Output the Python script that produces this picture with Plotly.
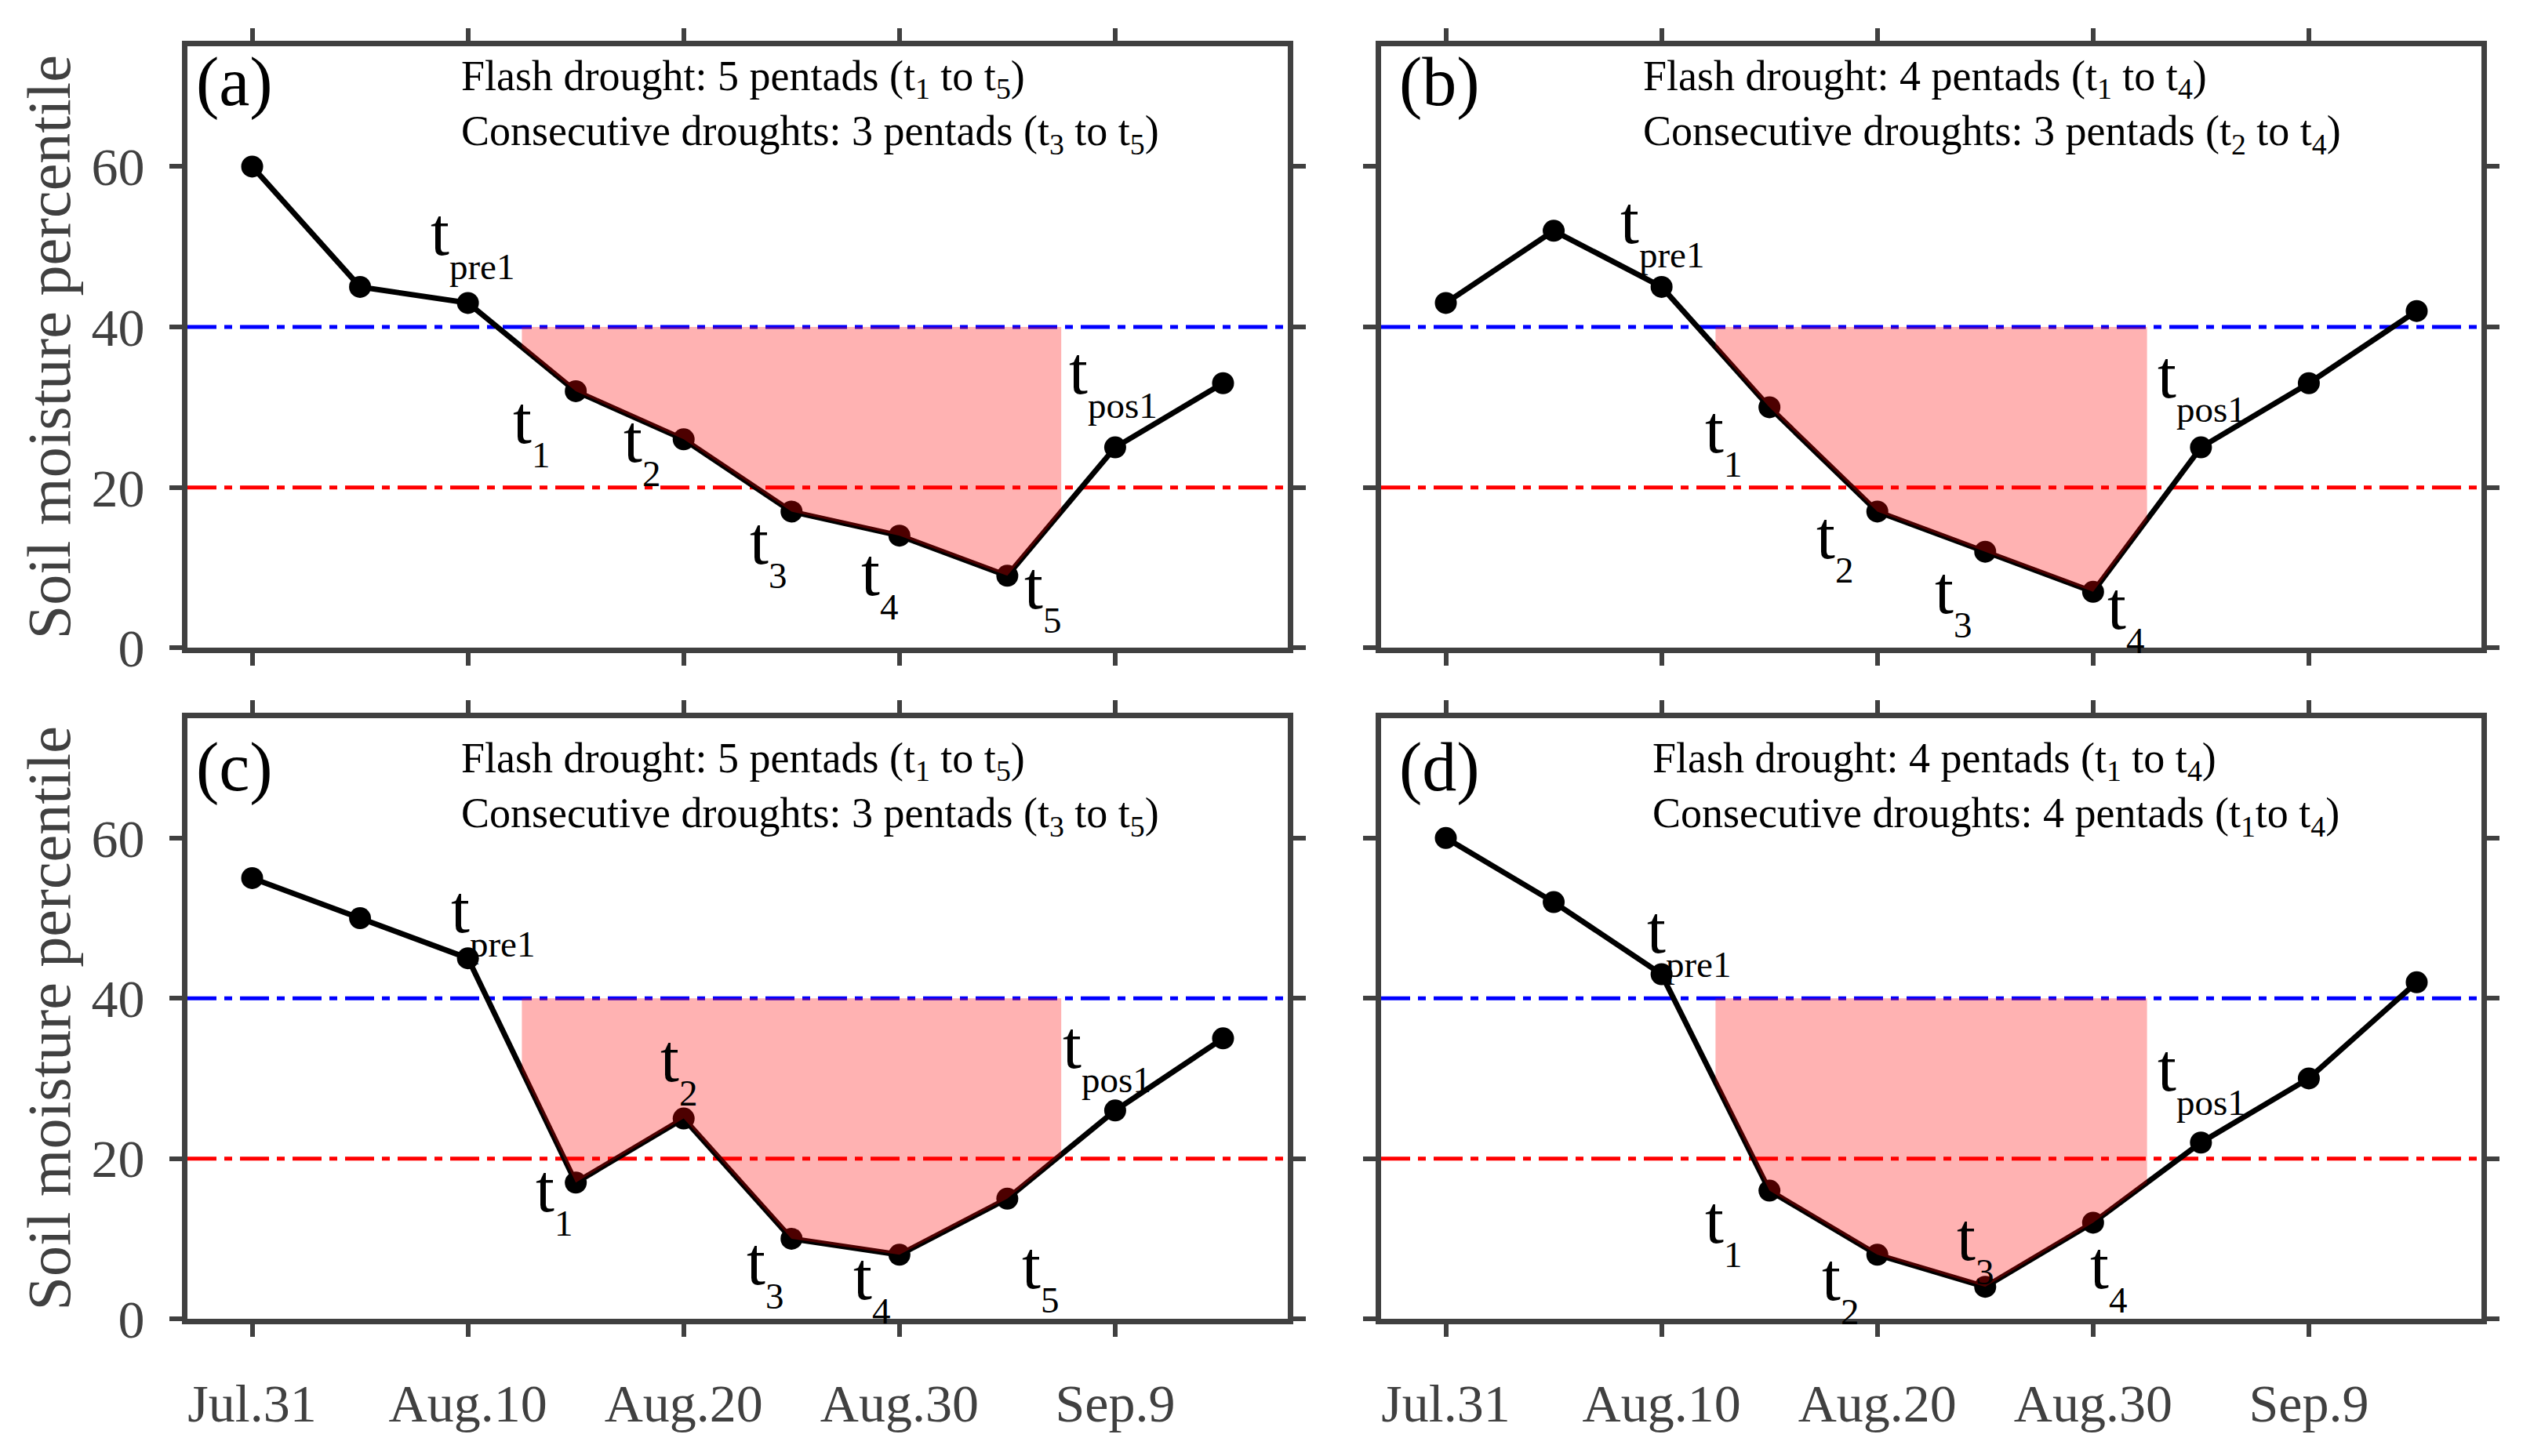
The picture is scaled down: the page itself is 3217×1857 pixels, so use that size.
import numpy as np
import plotly.graph_objects as go

# ---------------- data ----------------
pentads = list(range(1, 11))
tick_vals = [1, 3, 5, 7, 9]
tick_text = ['Jul.31', 'Aug.10', 'Aug.20', 'Aug.30', 'Sep.9']
y_ticks = [0, 20, 40, 60]

sm_a = [60, 45, 43, 32, 26, 17, 14, 9, 25, 33]
sm_b = [43, 52, 45, 30, 17, 12, 7, 25, 33, 42]
sm_c = [55, 50, 45, 17, 25, 10, 8, 15, 26, 35]
sm_d = [60, 52, 43, 16, 8, 4, 12, 22, 30, 42]

flash_start = [4, 4, 4, 4]      # pentad index of t1
flash_length = [5, 4, 5, 4]     # number of pentads of flash drought

thresholds = [40, 20]
threshold_colors = ['#0000FF', '#FF0000']

panel_labels = ['(a)', '(b)', '(c)', '(d)']
info_text = [
    'Flash drought: 5 pentads (t<sub>1</sub> to t<sub>5</sub>)<br>'
    'Consecutive droughts: 3 pentads (t<sub>3</sub> to t<sub>5</sub>)',
    'Flash drought: 4 pentads (t<sub>1</sub> to t<sub>4</sub>)<br>'
    'Consecutive droughts: 3 pentads (t<sub>2</sub> to t<sub>4</sub>)',
    'Flash drought: 5 pentads (t<sub>1</sub> to t<sub>5</sub>)<br>'
    'Consecutive droughts: 3 pentads (t<sub>3</sub> to t<sub>5</sub>)',
    'Flash drought: 4 pentads (t<sub>1</sub> to t<sub>4</sub>)<br>'
    'Consecutive droughts: 4 pentads (t<sub>1</sub>to t<sub>4</sub>)',
]

# point labels: subscript, x of left edge of "t", y of baseline of "t"
lab_a_sub = ['pre1', '1', '2', '3', '4', '5', 'pos1']
lab_a_x = [2.64, 3.40, 4.43, 5.60, 6.63, 8.14, 8.56]
lab_a_y = [49.7, 26.2, 23.9, 11.2, 7.3, 5.6, 32.4]

lab_b_sub = ['pre1', '1', '2', '3', '4', 'pos1']
lab_b_x = [2.60, 3.39, 4.42, 5.52, 7.12, 7.58]
lab_b_y = [51.1, 25.1, 11.9, 5.0, 3.1, 31.9]

lab_c_sub = ['pre1', '1', '2', '3', '4', '5', 'pos1']
lab_c_x = [2.83, 3.61, 4.77, 5.57, 6.56, 8.12, 8.50]
lab_c_y = [48.9, 14.1, 30.3, 5.0, 3.1, 4.5, 32.0]

lab_d_sub = ['pre1', '1', '2', '3', '4', 'pos1']
lab_d_x = [2.85, 3.39, 4.47, 5.72, 6.96, 7.58]
lab_d_y = [46.4, 10.2, 3.0, 8.0, 4.5, 29.2]

# ---------------- layout constants ----------------
W, H = 3217, 1857
FONT = 'Liberation Serif'
AXC = '#404040'

x_dom = [[231 / W, 1634 / W], [1753 / W, 3156 / W], [231 / W, 1634 / W], [1753 / W, 3156 / W]]
y_dom = [[1 - 836 / H, 1 - 52 / H], [1 - 836 / H, 1 - 52 / H], [1 - 1710 / H, 1 - 927 / H], [1 - 1710 / H, 1 - 927 / H]]
info_x = [0.2473, 0.2366, 0.247, 0.2452]
info_y = [0.992, 0.992, 0.975, 0.975]
plab_x = [0.0064, 0.015, 0.0064, 0.015]
plab_y = [1.0065, 1.0065, 0.984, 0.984]

panels = [
    dict(sm=sm_a, sub=lab_a_sub, lx=lab_a_x, ly=lab_a_y),
    dict(sm=sm_b, sub=lab_b_sub, lx=lab_b_x, ly=lab_b_y),
    dict(sm=sm_c, sub=lab_c_sub, lx=lab_c_x, ly=lab_c_y),
    dict(sm=sm_d, sub=lab_d_sub, lx=lab_d_x, ly=lab_d_y),
]

fig = go.Figure()
shapes = []
annotations = []

for i, p in enumerate(panels):
    xa = 'x' if i == 0 else f'x{i + 1}'
    ya = 'y' if i == 0 else f'y{i + 1}'
    vals = p['sm']

    # threshold lines (below traces)
    for thr, col in zip(thresholds, threshold_colors):
        shapes.append(dict(type='line', xref=f'{xa} domain', yref=ya, x0=0, x1=1, y0=thr, y1=thr,
                           line=dict(color=col, width=5, dash='37px,10px,10px,10px'), layer='below'))

    # soil moisture series
    fig.add_trace(go.Scatter(x=pentads, y=vals, mode='lines+markers',
                             line=dict(color='black', width=7),
                             marker=dict(color='black', size=28),
                             xaxis=xa, yaxis=ya, showlegend=False, hoverinfo='skip'))

    # shaded flash drought area (between 40th percentile and the curve)
    xs = flash_start[i] - 0.5
    xe = flash_start[i] + flash_length[i] - 1 + 0.5
    inside = [k for k in pentads if xs < k < xe]
    px = [xs, xs] + inside + [xe, xe]
    py = ([thresholds[0], float(np.interp(xs, pentads, vals))] + [vals[k - 1] for k in inside]
          + [float(np.interp(xe, pentads, vals)), thresholds[0]])
    fig.add_trace(go.Scatter(x=px, y=py, mode='lines', fill='toself',
                             fillcolor='rgba(255,0,0,0.3)',
                             line=dict(width=0, color='rgba(0,0,0,0)'),
                             xaxis=xa, yaxis=ya, showlegend=False, hoverinfo='skip'))

    # point labels  (t with a low subscript)
    for s, lx, ly in zip(p['sub'], p['lx'], p['ly']):
        annotations.append(dict(text=f't<sub><sub><span style="font-size:47px">{s}</span></sub></sub>',
                                x=lx, y=ly, xref=xa, yref=ya,
                                xanchor='left', yanchor='bottom', yshift=-50, showarrow=False,
                                font=dict(family=FONT, size=86, color='black')))

    # panel label
    annotations.append(dict(text=panel_labels[i], x=plab_x[i], y=plab_y[i],
                            xref=f'{xa} domain', yref=f'{ya} domain',
                            xanchor='left', yanchor='top', showarrow=False,
                            font=dict(family=FONT, size=88, color='black')))
    # info text
    annotations.append(dict(text=info_text[i], x=info_x[i], y=info_y[i],
                            xref=f'{xa} domain', yref=f'{ya} domain',
                            xanchor='left', yanchor='top', align='left', showarrow=False,
                            font=dict(family=FONT, size=54, color='black')))

axis_common = dict(showline=True, linecolor=AXC, linewidth=7, mirror='ticks',
                   ticks='outside', ticklen=16, tickwidth=6, tickcolor=AXC,
                   showgrid=False, zeroline=False,
                   tickfont=dict(family=FONT, size=68, color=AXC))

layout = dict(width=W, height=H, margin=dict(l=0, r=0, t=0, b=0),
              paper_bgcolor='white', plot_bgcolor='white',
              shapes=shapes, annotations=annotations, showlegend=False)

for i in range(4):
    xk = 'xaxis' if i == 0 else f'xaxis{i + 1}'
    yk = 'yaxis' if i == 0 else f'yaxis{i + 1}'
    ya = 'y' if i == 0 else f'y{i + 1}'
    xa = 'x' if i == 0 else f'x{i + 1}'
    layout[xk] = dict(axis_common, domain=x_dom[i], range=[0.4, 10.6], anchor=ya,
                      tickvals=tick_vals, ticktext=tick_text,
                      showticklabels=(i >= 2), ticklabelstandoff=26)
    ydict = dict(axis_common, domain=y_dom[i], range=[0, 75], anchor=xa,
                 tickvals=y_ticks, showticklabels=(i % 2 == 0), ticklabelstandoff=18)
    if i % 2 == 0:
        ydict['title'] = dict(text='Soil moisture percentile', standoff=4,
                              font=dict(family=FONT, size=78, color=AXC))
    layout[yk] = ydict

fig.update_layout(**layout)
fig.write_html('out.html')
